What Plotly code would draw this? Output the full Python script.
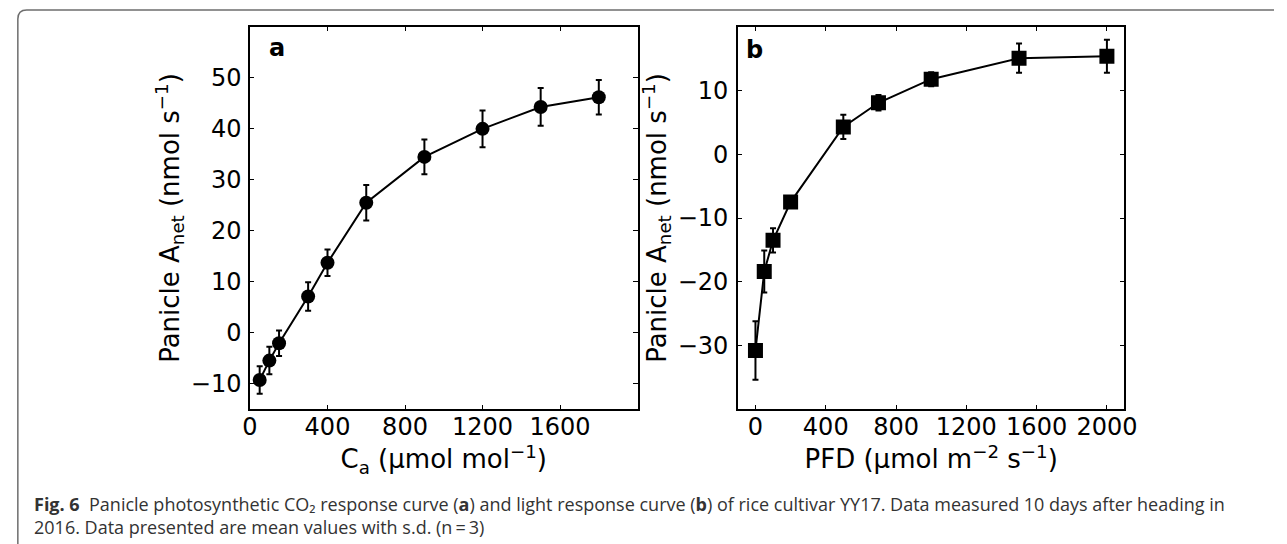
import plotly.graph_objects as go

# ---- Data: panel a (CO2 response) ----
ca_x = [50, 100, 150, 300, 400, 600, 900, 1200, 1500, 1800]
ca_y = [-9.3, -5.5, -2.1, 7.1, 13.7, 25.5, 34.5, 40.0, 44.3, 46.2]
ca_err = [2.7, 2.7, 2.5, 2.8, 2.6, 3.5, 3.4, 3.6, 3.7, 3.4]

# ---- Data: panel b (light response) ----
pfd_x = [0, 50, 100, 200, 500, 700, 1000, 1500, 2000]
pfd_y = [-30.8, -18.4, -13.5, -7.5, 4.3, 8.1, 11.8, 15.1, 15.4]
pfd_err = [4.6, 3.3, 1.9, 0.7, 1.9, 1.2, 1.1, 2.3, 2.6]

a_yticks = [-10, 0, 10, 20, 30, 40, 50]
a_xticks = [0, 400, 800, 1200, 1600]
b_yticks = [-30, -20, -10, 0, 10]
b_xticks = [0, 400, 800, 1200, 1600, 2000]

caption_lines = [
    "<b>Fig. 6</b>  Panicle photosynthetic CO\u2082 response curve (<b>a</b>) and light response curve (<b>b</b>) of rice cultivar YY17. Data measured 10 days after heading in",
    "2016. Data presented are mean values with s.d. (n\u2009=\u20093)",
]

W, H = 1287, 544


def px(x):
    return x / W


def py(y):
    return 1 - y / H


def lab(v):
    return str(v).replace("-", "\u2212")


TICKFONT = dict(family="DejaVu Sans", size=24, color="black")
TITLEFONT = dict(family="DejaVu Sans", size=26, color="black")

fig = go.Figure()
fig.add_trace(go.Scatter(
    x=ca_x, y=ca_y, mode="lines+markers",
    line=dict(color="black", width=2),
    marker=dict(symbol="circle", size=14, color="black"),
    error_y=dict(type="data", array=ca_err, color="black", thickness=2, width=3),
    xaxis="x", yaxis="y", showlegend=False,
))
fig.add_trace(go.Scatter(
    x=pfd_x, y=pfd_y, mode="lines+markers",
    line=dict(color="black", width=2),
    marker=dict(symbol="square", size=15, color="black"),
    error_y=dict(type="data", array=pfd_err, color="black", thickness=2, width=3),
    xaxis="x2", yaxis="y2", showlegend=False,
))

common = dict(
    showline=True, linecolor="black", linewidth=1.5, mirror="allticks",
    ticks="inside", ticklen=4.5, tickwidth=1.2, tickcolor="black",
    showgrid=False, zeroline=False, tickfont=TICKFONT,
)

fig.update_layout(
    width=W, height=H,
    margin=dict(l=0, r=0, t=0, b=0),
    paper_bgcolor="white", plot_bgcolor="white",
    xaxis=dict(domain=[px(246), px(640)], range=[0, 2000], anchor="y",
               tickvals=a_xticks, ticktext=[lab(v) for v in a_xticks],
               ticklabelstandoff=-5, tickangle=0,
               title=dict(text="C<sub>a</sub> (\u00b5mol mol<sup>\u22121</sup>)",
                          font=TITLEFONT, standoff=8),
               **common),
    yaxis=dict(domain=[py(409), py(27)], range=[-15, 60], anchor="x",
               tickvals=a_yticks, ticktext=[lab(v) for v in a_yticks],
               ticklabelstandoff=2,
               title=dict(text="Panicle A<sub>net</sub> (nmol s<sup>\u22121</sup>)",
                          font=TITLEFONT, standoff=4),
               **common),
    xaxis2=dict(domain=[px(742), px(1135)], range=[-100, 2100], anchor="y2",
                tickvals=b_xticks, ticktext=[lab(v) for v in b_xticks],
                ticklabelstandoff=-5, tickangle=0,
                title=dict(text="PFD (\u00b5mol m<sup>\u22122</sup> s<sup>\u22121</sup>)",
                           font=TITLEFONT, standoff=8),
                **common),
    yaxis2=dict(domain=[py(409), py(27)], range=[-40, 20], anchor="x2",
                tickvals=b_yticks, ticktext=[lab(v) for v in b_yticks],
                ticklabelstandoff=3,
                title=dict(text="Panicle A<sub>net</sub> (nmol s<sup>\u22121</sup>)",
                           font=TITLEFONT, standoff=4),
                **common),
)

# panel labels
fig.add_annotation(x=px(263), y=py(48), xref="paper", yref="paper", text="<b>a</b>",
                   showarrow=False, xanchor="left", yanchor="middle",
                   font=dict(family="DejaVu Sans", size=24, color="black"))
fig.add_annotation(x=px(748), y=py(50), xref="paper", yref="paper", text="<b>b</b>",
                   showarrow=False, xanchor="left", yanchor="middle",
                   font=dict(family="DejaVu Sans", size=24, color="black"))

# outer frame (rounded top-left corner)
fig.add_shape(type="path", xref="paper", yref="paper",
              path=f"M {px(10)},{py(544)} L {px(10)},{py(19)} Q {px(10)},{py(10)} {px(19)},{py(10)} L {px(1287)},{py(10)}",
              line=dict(color="#6e6e6e", width=1.5))

# caption (two lines in one text block)
fig.add_annotation(x=px(24), y=py(515), xref="paper", yref="paper", showarrow=False,
                   xanchor="left", yanchor="middle", align="left",
                   font=dict(family="Open Sans", size=18, color="#333333"),
                   text="<br>".join(caption_lines))

fig.write_html("out.html", config={"displayModeBar": False},
               post_script="document.body.style.margin='0';document.body.style.overflow='hidden';")
